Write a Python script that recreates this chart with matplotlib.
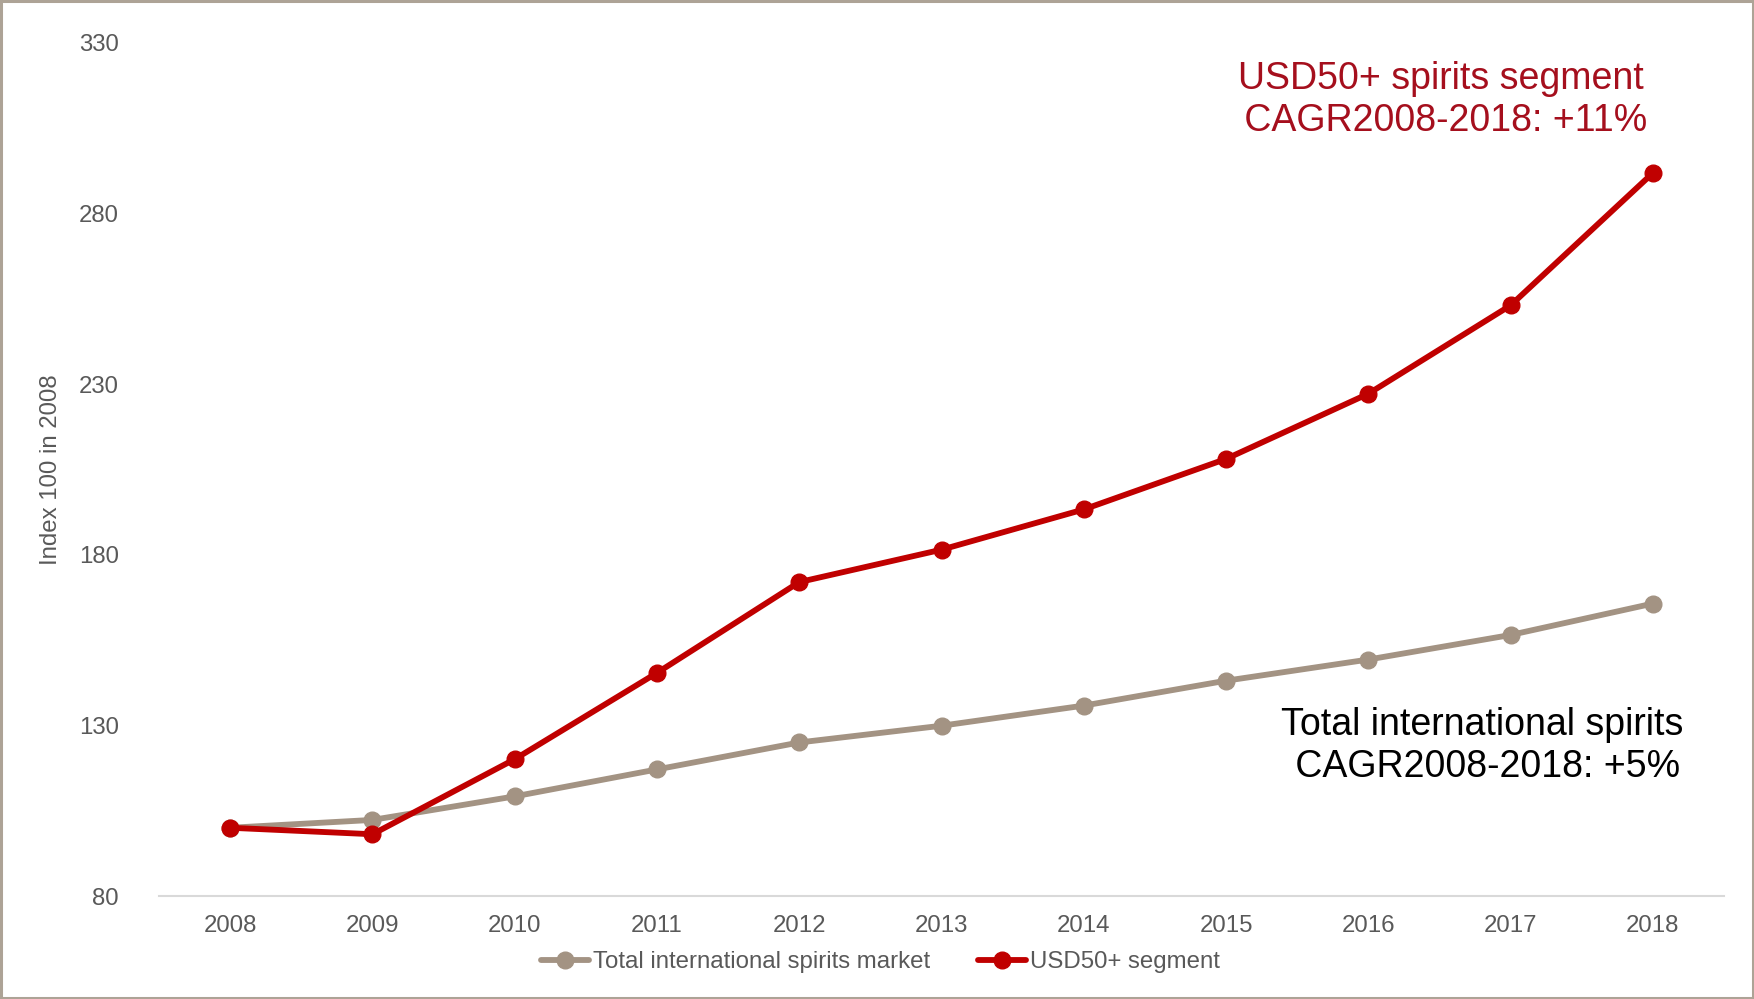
import matplotlib
matplotlib.use("Agg")
import matplotlib.pyplot as plt
from matplotlib.patches import Rectangle

# ── Data ────────────────────────────────────────────────────────────────────
years = [2008, 2009, 2010, 2011, 2012, 2013, 2014, 2015, 2016, 2017, 2018]
total_market = [100, 102.3, 109.2, 117.1, 125.0, 129.9, 135.8, 143.1, 149.3, 156.5, 165.7]
usd50_segment = [100, 98.1, 120.1, 145.4, 172.0, 181.5, 193.3, 208.1, 227.2, 253.1, 291.9]
y_ticks = [80, 130, 180, 230, 280, 330]

GRAY = "#A39383"
RED = "#C00000"
TEXT = "#595959"

plt.rcParams["font.family"] = ["Liberation Sans", "DejaVu Sans"]

fig = plt.figure(figsize=(17.54, 9.99), dpi=100)
ax = fig.add_axes([0.0907, 0.1031, 0.8922, 0.8539])

ax.plot(years, total_market, color=GRAY, lw=4.2, marker="o", ms=12,
        solid_capstyle="round", label="Total international spirits market")
ax.plot(years, usd50_segment, color=RED, lw=4.2, marker="o", ms=12,
        solid_capstyle="round", label="USD50+ segment")

ax.set_xlim(2007.5, 2018.5)
ax.set_ylim(80, 330)
ax.set_xticks(years)
ax.set_yticks(y_ticks)
ax.tick_params(axis="both", length=0, labelsize=17.3, labelcolor=TEXT)
ax.tick_params(axis="x", pad=14)
ax.tick_params(axis="y", pad=29)

for side in ["top", "right", "left"]:
    ax.spines[side].set_visible(False)
ax.spines["bottom"].set_color("#D9D9D9")
ax.spines["bottom"].set_linewidth(1.5)

ax.set_ylabel("Index 100 in 2008", fontsize=17.3, color=TEXT, labelpad=12)

# ── Annotations ─────────────────────────────────────────────────────────────
fig.text(0.8215, 0.9, "USD50+ spirits segment\n CAGR2008-2018: +11%",
         ha="center", va="center", fontsize=27, color="#A50F1D", linespacing=1.2)
fig.text(0.845, 0.253, "Total international spirits\n CAGR2008-2018: +5%",
         ha="center", va="center", fontsize=27, color="black", linespacing=1.2)

fig.legend(loc="center", bbox_to_anchor=(0.502, 0.037), ncol=2, frameon=False,
           fontsize=17.3, labelcolor=TEXT, handlelength=2.0, handletextpad=0.15,
           columnspacing=2.0)

# thin frame around the whole figure
fig.patches.append(Rectangle((0.0005, 0.001), 0.999, 0.998, transform=fig.transFigure,
                             fill=False, edgecolor="#ADA396", lw=2.2))

fig.savefig("out.png", dpi=100)
